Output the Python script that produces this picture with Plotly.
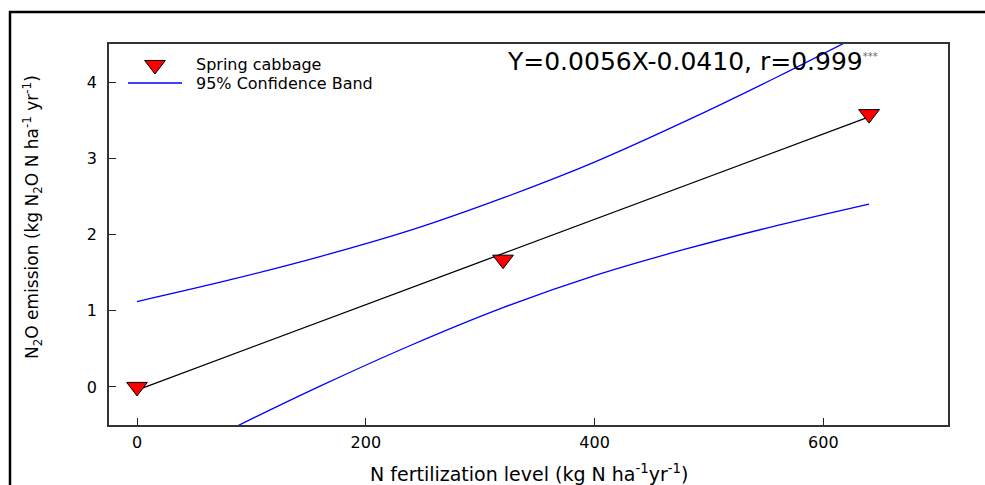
import plotly.graph_objects as go

# Data
n_levels = [0, 320, 640]
n2o_emission = [0.0, 1.67, 3.58]

fit_x = [0, 640]
fit_y = [-0.041, 3.543]

band_x = [0, 80, 160, 240, 320, 400, 480, 560, 640]
band_upper = [1.12, 1.40, 1.71, 2.06, 2.48, 2.95, 3.49, 4.07, 4.68]
band_lower = [-1.18, -0.57, 0.01, 0.55, 1.04, 1.46, 1.81, 2.12, 2.40]

x_ticks = [0, 200, 400, 600]
y_ticks = [0, 1, 2, 3, 4]

legend_labels = ["Spring cabbage", "95% Confidence Band"]

FONT = "DejaVu Sans, Arial, sans-serif"
BLUE = "#0000ff"
RED = "#ff0000"

fig = go.Figure()

fig.add_trace(go.Scatter(
    x=fit_x, y=fit_y, mode="lines",
    line=dict(color="black", width=1.3),
    showlegend=False, hoverinfo="skip"))

fig.add_trace(go.Scatter(
    x=band_x, y=band_upper, mode="lines", line_shape="spline",
    line=dict(color=BLUE, width=1.3), showlegend=False))

fig.add_trace(go.Scatter(
    x=band_x, y=band_lower, mode="lines", line_shape="spline",
    line=dict(color=BLUE, width=1.3), showlegend=False))

marker_style = dict(symbol="triangle-down", size=18, color=RED,
                    line=dict(color="black", width=1))

fig.add_trace(go.Scatter(
    x=n_levels, y=n2o_emission, mode="markers",
    marker=marker_style, showlegend=False))

# legend key marker (drawn on an overlay axis spanning the plot area 0..1)
fig.add_trace(go.Scatter(
    x=[0.0548], y=[0.945], mode="markers", marker=marker_style,
    xaxis="x2", yaxis="y2", showlegend=False, hoverinfo="skip"))

axis_common = dict(
    showgrid=False, zeroline=False, showline=True, mirror=True,
    linecolor="#333333", linewidth=1.5,
    ticks="inside", ticklen=7, tickwidth=1.2, tickcolor="#222222",
    tickfont=dict(family=FONT, size=16, color="black"),
)

fig.update_xaxes(range=[-24.5, 709], tickvals=x_ticks,
                 ticklabelstandoff=2, **axis_common)
fig.update_yaxes(range=[-0.5, 4.5], tickvals=y_ticks,
                 ticklabelstandoff=7, **axis_common)

fig.update_layout(
    width=985, height=485,
    margin=dict(l=109, r=37, t=44, b=60),
    paper_bgcolor="white", plot_bgcolor="white",
    font=dict(family=FONT, color="black"),
    showlegend=False,
    xaxis2=dict(overlaying="x", range=[0, 1], visible=False, fixedrange=True),
    yaxis2=dict(overlaying="y", range=[0, 1], visible=False, fixedrange=True),
)

# legend key line and texts
fig.add_shape(type="line", xref="paper", yref="paper",
              x0=0.0226, x1=0.087, y0=0.8976, y1=0.8976,
              line=dict(color=BLUE, width=1.3))
fig.add_annotation(x=0.1025, y=0.947, xref="paper", yref="paper",
                   xanchor="left", yanchor="middle", showarrow=False,
                   borderpad=0,
                   text=legend_labels[0], font=dict(family=FONT, size=16))
fig.add_annotation(x=0.1025, y=0.8976, xref="paper", yref="paper",
                   xanchor="left", yanchor="middle", showarrow=False,
                   borderpad=0,
                   text=legend_labels[1], font=dict(family=FONT, size=16))

# x-axis title
fig.add_annotation(
    x=0.5, y=-0.125, xref="paper", yref="paper",
    xanchor="center", yanchor="middle", showarrow=False, borderpad=0,
    text="N fertilization level (kg N ha<sup>-1</sup>yr<sup>-1</sup>)",
    font=dict(family=FONT, size=19))

# y-axis title
fig.add_annotation(
    x=-0.0906, y=0.546, xref="paper", yref="paper",
    xanchor="center", yanchor="middle", showarrow=False, textangle=-90,
    text="N<sub>2</sub>O emission (kg N<sub>2</sub>O N ha<sup>-1</sup> yr<sup>-1</sup>)",
    font=dict(family=FONT, size=17))

# equation
fig.add_annotation(
    x=0.472, y=0.953, xref="paper", yref="paper",
    xanchor="left", yanchor="middle", showarrow=False,
    text="Y=0.0056X-0.0410, r=0.999<sup><span style='font-size:10px;color:#666'>***</span></sup>",
    font=dict(family=FONT, size=25))

# outer frame
fig.add_shape(type="rect", xref="paper", yref="paper",
              x0=-0.118, x1=1.2, y0=-0.5, y1=1.084,
              line=dict(color="black", width=2.5), layer="below")

fig.write_html(
    "out.html",
    config={"displayModeBar": False},
    post_script="document.body.style.margin='0';document.body.style.overflow='hidden';",
)
